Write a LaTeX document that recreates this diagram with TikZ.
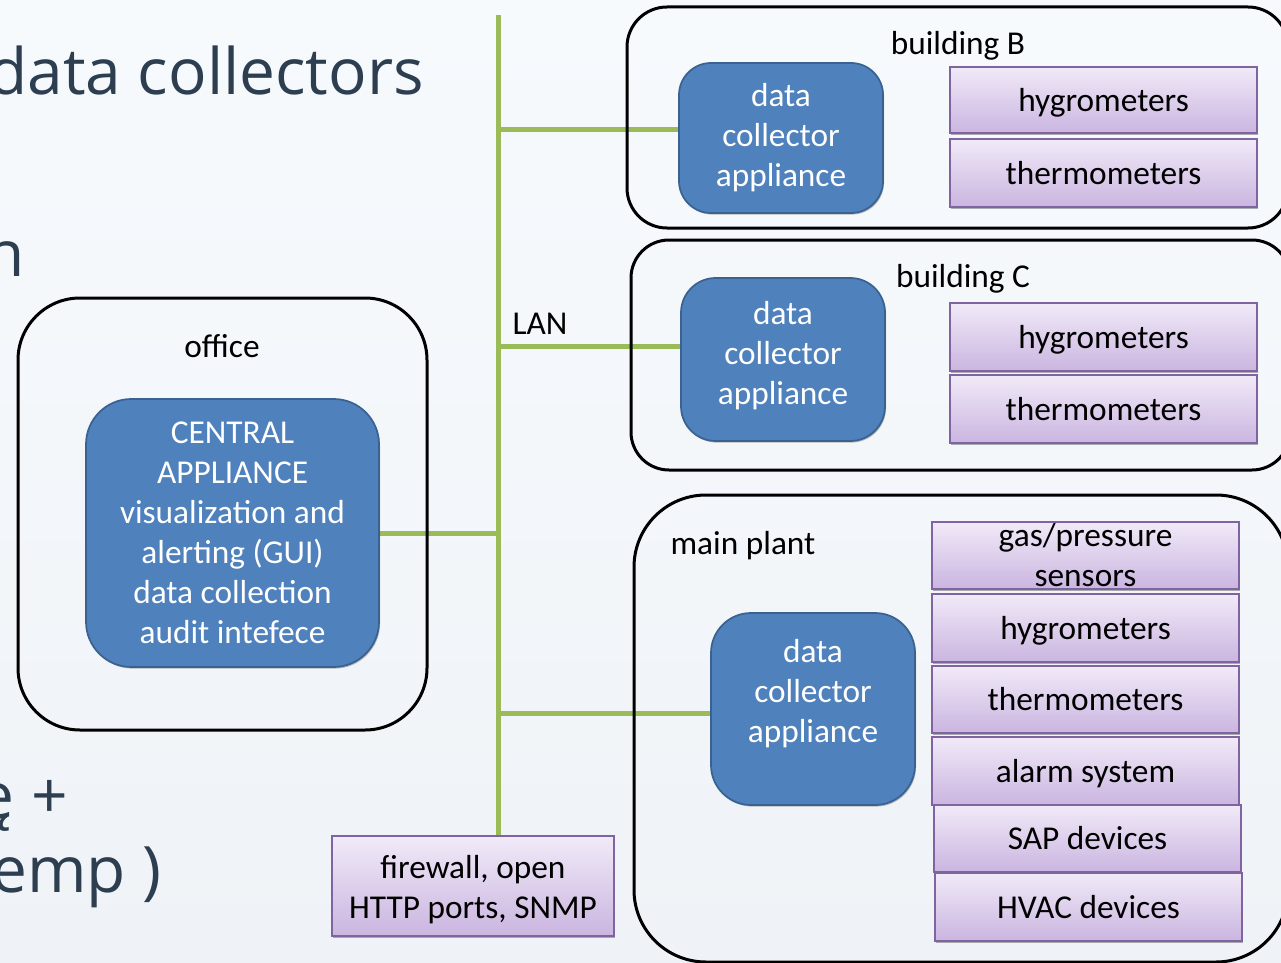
\documentclass[tikz,border=0pt]{standalone}
\usepackage{fontspec}
\setmainfont{Carlito}
\newfontfamily\slidefont{Open Sans}
\usetikzlibrary{shadows,backgrounds}
\definecolor{bgA}{HTML}{F7FAFD}
\definecolor{bgB}{HTML}{EFF3F7}
\definecolor{blueF}{HTML}{4F81BD}
\definecolor{blueD}{HTML}{3A6291}
\definecolor{purT}{HTML}{F1EAF8}
\definecolor{purB}{HTML}{CAB5E0}
\definecolor{purD}{HTML}{8064A2}
\definecolor{lanG}{HTML}{9BBB59}
\definecolor{slideC}{HTML}{2C3E50}
\newcommand\padbelow[1]{\rule[-#1]{0pt}{#1}}
\newcommand\padabove[1]{\rule{0pt}{#1}}
\pgfdeclarelayer{bgfill}
\pgfdeclarelayer{lines}
\pgfsetlayers{bgfill,lines,main}
\tikzset{
  diag/.style={font=\fontsize{25}{30}\selectfont, align=center},
  container/.style={draw=black, line width=2.25pt, inner sep=0pt},
  bluebox/.style={diag, draw=blueD, line width=1.3pt, fill=blueF, text=white, inner sep=0pt,
     drop shadow={shadow xshift=0.8pt, shadow yshift=-1.2pt, opacity=0.25, fill=black}},
  purplebox/.style={diag, draw=purD, line width=1.1pt, top color=purT, bottom color=purB,
     text=black, inner xsep=2pt, inner ysep=0pt,
     drop shadow={shadow xshift=0.8pt, shadow yshift=-1.2pt, opacity=0.3, fill=black}},
  oneline/.style={text height=22pt, text depth=5pt},
  plab/.style={diag, text=black, inner sep=0pt},
  slidetext/.style={font=\slidefont\fontsize{48}{58}\selectfont, text=slideC, inner sep=0pt, anchor=base east},
  lanline/.style={draw=lanG, line width=3.75pt},
}
\begin{document}
\begin{tikzpicture}[x=0.75pt,y=-0.75pt]
\clip (0,0) rectangle (1281,963);
\begin{pgfonlayer}{bgfill}
\shade[top color=bgA, bottom color=bgB] (0,0) rectangle (1281,963);
\end{pgfonlayer}

% slide text fragments
\node[slidetext] (title) at (424,95) {data collectors};
\node[slidetext] (frag1) at (25,276) {n};
\node[slidetext] (frag2) at (68,818) {ę +};
\node[slidetext] (frag3) at (162,892) {emp )};

% containers
\node[container, rounded corners=46.5pt, minimum width=306.75pt, minimum height=324pt] (office) at (222.5,514) {};
\node[container, rounded corners=30pt, minimum width=495.75pt, minimum height=165.75pt] (bldgB) at (957.5,117.5) {};
\node[container, rounded corners=28.5pt, minimum width=494.25pt, minimum height=172.5pt] (bldgC) at (960.5,355) {};
\node[container, rounded corners=54pt, minimum width=490.5pt, minimum height=350.25pt] (plant) at (961,728.5) {};

\node[plab] (officeL) at (222,346) {office};
\node[plab] (bldgBL) at (958,46) {building B};
\node[plab] (bldgCL) at (963,279) {building C};
\node[plab] (plantL) at (743,546) {main plant};
\node[plab] (lanL) at (540,324) {LAN};

% blue appliances
\node[bluebox, rounded corners=34pt, minimum width=219.75pt, minimum height=201pt] (central) at (232.5,533)
  {CENTRAL\\APPLIANCE\\visualization and\\alerting (GUI)\\data collection\\audit intefece};
\node[bluebox, rounded corners=24pt, minimum width=153pt, minimum height=112.5pt] (dcB) at (781,138)
  {data\\collector\\appliance};
\node[bluebox, rounded corners=26pt, minimum width=153pt, minimum height=122.25pt] (dcC) at (783,359.5)
  {data\\collector\\appliance\padbelow{10pt}};
\node[bluebox, rounded corners=30pt, minimum width=153pt, minimum height=144pt] (dcM) at (813,709)
  {data\\collector\\appliance\padbelow{27pt}};

% purple devices
\node[purplebox, oneline, minimum width=230.25pt, minimum height=49.5pt] (hygB) at (1103.5,100) {hygrometers};
\node[purplebox, oneline, minimum width=230.25pt, minimum height=51pt] (thermB) at (1103.5,173) {thermometers};
\node[purplebox, oneline, minimum width=230.25pt, minimum height=51pt] (hygC) at (1103.5,337) {hygrometers};
\node[purplebox, oneline, minimum width=230.25pt, minimum height=51pt] (thermC) at (1103.5,409) {thermometers};
\node[purplebox, minimum width=230.25pt, minimum height=50.25pt] (gas) at (1085.5,555.5) {gas/pressure\\sensors};
\node[purplebox, oneline, minimum width=230.25pt, minimum height=51pt] (hygM) at (1085.5,628) {hygrometers};
\node[purplebox, oneline, minimum width=230.25pt, minimum height=50.25pt] (thermM) at (1085.5,699.5) {thermometers};
\node[purplebox, oneline, minimum width=230.25pt, minimum height=51pt] (alarm) at (1085.5,771) {alarm system};
\node[purplebox, oneline, minimum width=230.25pt, minimum height=50.25pt] (sap) at (1087.5,838.5) {SAP devices};
\node[purplebox, oneline, minimum width=230.25pt, minimum height=51pt] (hvac) at (1088.5,907) {HVAC devices};
\node[purplebox, minimum width=211.5pt, minimum height=75pt] (fw) at (473,886) {\padabove{23pt}firewall, open\\HTTP ports, SNMP};

\coordinate (lanTop) at (498,15);

% LAN connectors
\begin{pgfonlayer}{lines}
\draw[lanline] (lanTop) -- (lanTop |- fw.north);
\draw[lanline] ([yshift=6pt]dcB.west -| lanTop) -- ([yshift=6pt]dcB.west);
\draw[lanline] ([yshift=10.1pt]dcC.west -| lanTop) -- ([yshift=10.1pt]dcC.west);
\draw[lanline] (central.east) -- (central.east -| lanTop);
\draw[lanline] ([yshift=-3pt]dcM.west -| lanTop) -- ([yshift=-3pt]dcM.west);
\end{pgfonlayer}
\end{tikzpicture}
\end{document}
